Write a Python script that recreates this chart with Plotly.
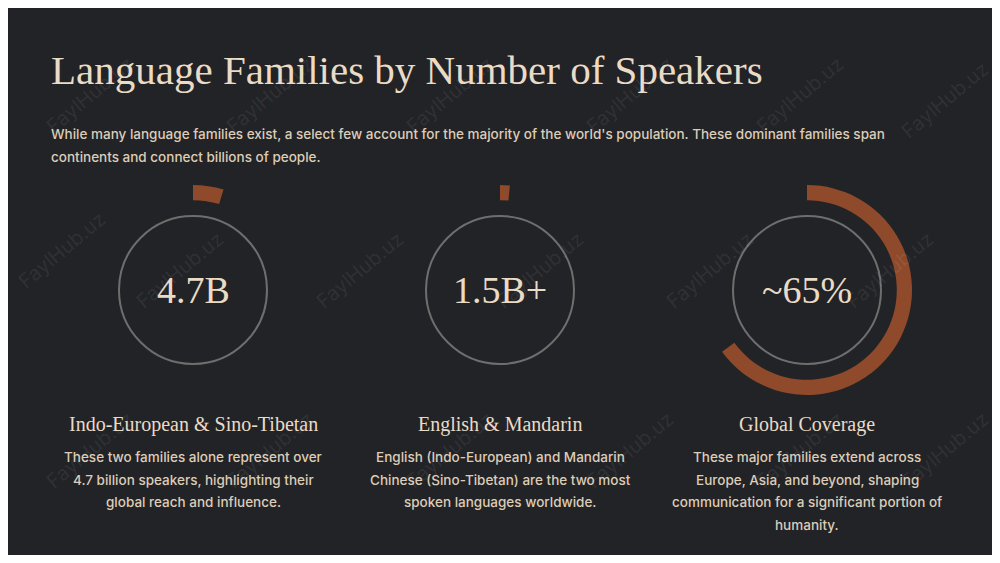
import plotly.graph_objects as go

big_values = ["4.7B", "1.5B+", "~65%"]
arc_pct = [4.7, 1.5, 65]
headings = ["Indo-European & Sino-Tibetan", "English & Mandarin", "Global Coverage"]
bodies = [
    ["These two families alone represent over", "4.7 billion speakers, highlighting their",
     "global reach and influence."],
    ["English (Indo-European) and Mandarin", "Chinese (Sino-Tibetan) are the two most",
     "spoken languages worldwide."],
    ["These major families extend across", "Europe, Asia, and beyond, shaping",
     "communication for a significant portion of", "humanity."],
]
subtitle = ["While many language families exist, a select few account for the majority of the world's population. These dominant families span",
            "continents and connect billions of people."]
centers_x = [193, 500, 807]

# page has an 8px body margin; work in screen pixels and convert
OFF = 8
W, H = 1000 - 2 * OFF, 563 - 2 * OFF


def px(x):
    return (x - OFF) / W


def py(y):
    return (H - (y - OFF)) / H


cy = 290
bg = "#222326"
cream = "#eadbc6"
body_col = "#ddcdb8"
rust = "#8e4a2a"
body_font = dict(family="Inter", size=13.5, color=body_col, weight=500)

fig = go.Figure()
shapes = []
anns = []
r_out, r_circ = 105, 74
for cx, pct, val, head, body in zip(centers_x, arc_pct, big_values, headings, bodies):
    fig.add_trace(go.Pie(
        values=[pct, 100 - pct], hole=0.855, sort=False, direction="clockwise",
        rotation=0, textinfo="none", hoverinfo="skip", showlegend=False,
        marker=dict(colors=[rust, "rgba(0,0,0,0)"], line=dict(width=0)),
        domain=dict(x=[px(cx - r_out), px(cx + r_out)], y=[py(cy + r_out), py(cy - r_out)]),
    ))
    shapes.append(dict(type="circle", xref="paper", yref="paper",
                       x0=px(cx - r_circ), x1=px(cx + r_circ),
                       y0=py(cy + r_circ), y1=py(cy - r_circ),
                       line=dict(color="#6e6e6e", width=2)))
    anns.append(dict(x=px(cx), y=py(cy), text=val, showarrow=False, xanchor="center", yanchor="middle",
                     font=dict(family="Liberation Serif", size=38, color=cream)))
    anns.append(dict(x=px(cx), y=py(424), text=head, showarrow=False, xanchor="center", yanchor="middle",
                     font=dict(family="Liberation Serif", size=20, color=cream)))
    for i, line in enumerate(body):
        anns.append(dict(x=px(cx), y=py(457 + 22.7 * i), xanchor="center", yanchor="middle",
                         text=line, showarrow=False, font=body_font))

anns.append(dict(x=px(49), y=py(70), xanchor="left", yanchor="middle",
                 text="Language Families by Number of Speakers",
                 showarrow=False, font=dict(family="Liberation Serif", size=41, color=cream)))
for i, line in enumerate(subtitle):
    anns.append(dict(x=px(49), y=py(134 + 22.5 * i), xanchor="left", yanchor="middle",
                     text=line, showarrow=False, font=body_font))

# faint watermark
for wx, wy in [(90, 95), (270, 95), (450, 95), (630, 95), (800, 95), (945, 100),
               (62, 250), (180, 270), (360, 270), (540, 270), (710, 270), (890, 270),
               (90, 450), (270, 450), (450, 450), (630, 450), (800, 450), (945, 450)]:
    anns.append(dict(x=px(wx), y=py(wy), text="FaylHub.uz", showarrow=False, textangle=-40,
                     xanchor="center", yanchor="middle",
                     font=dict(family="Inter", size=20, color="rgba(255,255,255,0.08)")))

fig.update_layout(width=W, height=H, paper_bgcolor=bg, plot_bgcolor=bg,
                  margin=dict(l=0, r=0, t=0, b=0), shapes=shapes, annotations=anns)
fig.write_html("out.html")
